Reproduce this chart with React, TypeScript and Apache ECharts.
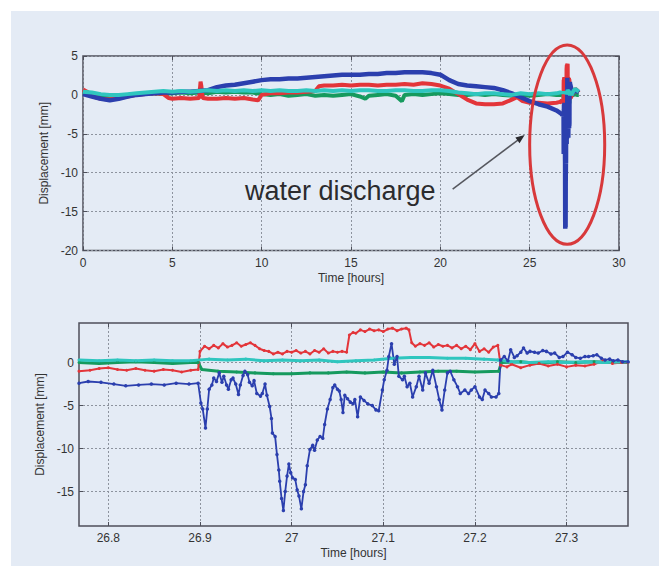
import React, { useEffect, useRef } from "react";
import * as echarts from "echarts";

const W = 659;
const H = 566;

// ---------- Overview (top panel), 0 – 26.7 h: [time h, displacement mm]
const blueOverview: [number, number][] = [
  [0, 0.1], [0.5, -0.2], [1, -0.5], [1.5, -0.7], [2, -0.5], [2.5, -0.2], [3, 0.0], [3.5, 0.1], [4, 0.2], [4.5, 0.3],
  [5, 0.3], [5.5, 0.4], [6, 0.4], [6.5, 0.5], [7, 0.6], [7.5, 1.0], [8, 1.2], [8.5, 1.3], [9, 1.5], [9.5, 1.7],
  [10, 1.9], [10.5, 2.0], [11, 2.0], [11.5, 2.1], [12, 2.1], [12.5, 2.2], [13, 2.3], [13.5, 2.4], [14, 2.5], [14.5, 2.6],
  [15, 2.6], [15.5, 2.6], [16, 2.7], [16.5, 2.7], [17, 2.8], [17.5, 2.8], [18, 2.9], [18.5, 2.9], [19, 2.9], [19.5, 2.8],
  [20, 2.6], [20.5, 1.9], [21, 1.4], [21.5, 1.2], [22, 1.1], [22.5, 1.0], [23, 0.9], [23.5, 0.6], [24, 0.2], [24.5, -0.3],
  [25, -0.8], [25.5, -1.2], [26, -1.5], [26.5, -2.0], [26.7, -2.3],
];
const redOverview: [number, number][] = [
  [0, 0.7], [0.3, 0.3], [0.7, -0.3], [1, -0.5], [1.5, -0.6], [2, -0.4], [2.5, -0.2], [3, 0.0], [3.5, 0.1], [4, 0.2],
  [4.5, 0.1], [4.8, -0.4], [5, -0.5], [5.5, -0.4], [6, -0.5], [6.5, -0.4], [6.58, 1.7], [6.62, 1.2], [6.7, -0.4], [7, -0.5],
  [7.5, -0.5], [8, -0.4], [8.5, -0.5], [9, -0.4], [9.5, -0.6], [9.8, -0.7], [10, 0.0], [10.5, 0.2], [11, 0.2], [11.5, 0.3],
  [12, 0.3], [12.5, 0.4], [13, 0.5], [13.2, 1.1], [13.5, 1.2], [14, 1.2], [14.5, 1.3], [15, 1.2], [15.5, 1.3], [16, 1.3],
  [16.5, 1.2], [17, 1.3], [17.5, 1.3], [18, 1.4], [18.5, 1.3], [19, 1.5], [19.5, 1.4], [20, 1.2], [20.5, 0.8], [21, 0.1],
  [21.5, -0.6], [22, -1.1], [22.5, -1.2], [23, -1.2], [23.5, -1.1], [24, -0.6], [24.3, -0.3], [24.6, -0.8], [25, -1.0], [25.5, -1.0],
  [26, -1.1], [26.5, -1.0], [26.7, -0.9],
];
const greenOverview: [number, number][] = [
  [0, 0.2], [0.5, 0.0], [1, -0.2], [1.5, -0.3], [2, -0.1], [2.5, 0.0], [3, 0.1], [3.5, 0.2], [4, 0.2], [4.5, 0.1],
  [5, 0.2], [5.5, 0.3], [6, 0.2], [6.5, 0.3], [7, 0.2], [7.5, 0.4], [8, 0.3], [8.5, 0.4], [9, 0.3], [9.5, 0.3],
  [10, 0.1], [10.5, 0.0], [11, 0.1], [11.5, -0.1], [12, 0.0], [12.5, 0.1], [13, -0.1], [13.5, 0.0], [14, -0.1], [14.5, 0.0],
  [15, 0.1], [15.5, -0.2], [15.8, -0.5], [16, -0.1], [16.5, 0.0], [17, 0.1], [17.5, -0.1], [17.85, -0.8], [18, 0.0], [18.5, 0.1],
  [19, 0.0], [19.5, 0.1], [20, 0.2], [20.5, 0.1], [21, 0.0], [21.5, 0.0], [22, 0.1], [22.5, 0.0], [23, 0.1], [23.5, 0.0],
  [24, -0.1], [24.5, 0.0], [25, -0.1], [25.5, 0.0], [26, 0.1], [26.5, 0.0], [26.7, 0.0],
];
const cyanOverview: [number, number][] = [
  [0, 0.4], [0.5, 0.3], [1, 0.1], [1.5, 0.0], [2, 0.0], [2.5, 0.1], [3, 0.2], [3.5, 0.3], [4, 0.4], [4.5, 0.5],
  [5, 0.4], [5.5, 0.5], [6, 0.4], [6.5, 0.5], [7, 0.6], [7.5, 0.5], [8, 0.6], [8.5, 0.5], [9, 0.6], [9.5, 0.5],
  [10, 0.6], [10.5, 0.5], [11, 0.6], [11.5, 0.5], [12, 0.5], [12.5, 0.6], [13, 0.5], [13.5, 0.6], [14, 0.5], [14.5, 0.6],
  [15, 0.5], [15.5, 0.6], [16, 0.6], [16.5, 0.5], [17, 0.5], [17.5, 0.6], [18, 0.6], [18.5, 0.5], [19, 0.5], [19.5, 0.6],
  [20, 0.6], [20.5, 0.5], [21, 0.3], [21.5, 0.2], [22, 0.1], [22.5, 0.2], [23, 0.2], [23.5, 0.1], [24, 0.0], [24.5, 0.2],
  [25, 0.1], [25.5, 0.2], [26, 0.1], [26.5, 0.2], [26.7, 0.3],
];

// ---------- Detail (bottom panel), 26.77 – 27.37 h
const blueDetail: [number, number][] = [
  [26.768, -2.4], [26.778, -2.2], [26.792, -2.3], [26.806, -2.5], [26.819, -2.7], [26.833, -2.6], [26.847, -2.5], [26.861, -2.6],
  [26.874, -2.4], [26.888, -2.5], [26.898, -2.4], [26.901, -4.7], [26.903, -5.4], [26.906, -7.6], [26.908, -5.4], [26.91, -3.1],
  [26.913, -2.6], [26.915, -1.8], [26.918, -2.2], [26.921, -1.2], [26.924, -2.3], [26.926, -1.6], [26.929, -2.6], [26.931, -3.1],
  [26.934, -2.0], [26.936, -1.8], [26.939, -2.5], [26.942, -3.7], [26.944, -2.6], [26.947, -1.5], [26.949, -1.0], [26.952, -1.4],
  [26.954, -2.3], [26.957, -2.7], [26.959, -2.1], [26.962, -3.6], [26.966, -3.9], [26.968, -3.6], [26.971, -2.5], [26.973, -3.8],
  [26.976, -5.1], [26.978, -6.5], [26.979, -8.2], [26.982, -8.6], [26.984, -10.7], [26.986, -12.5], [26.987, -13.8], [26.989, -15.8],
  [26.991, -17.2], [26.993, -15.0], [26.995, -13.2], [26.997, -11.8], [26.999, -12.8], [27.001, -13.4], [27.004, -13.6], [27.006, -14.8],
  [27.008, -15.5], [27.0106, -17.0], [27.013, -15.0], [27.015, -14.2], [27.017, -12.0], [27.02, -10.1], [27.023, -9.6], [27.025, -10.2],
  [27.028, -9.0], [27.031, -8.6], [27.034, -8.8], [27.036, -7.2], [27.039, -5.4], [27.042, -4.3], [27.045, -2.9], [27.047, -2.6],
  [27.05, -3.1], [27.052, -3.3], [27.054, -4.3], [27.056, -5.8], [27.058, -3.8], [27.061, -4.2], [27.064, -4.6], [27.067, -4.8],
  [27.069, -4.3], [27.072, -6.3], [27.075, -4.0], [27.079, -4.4], [27.083, -4.8], [27.088, -5.0], [27.092, -5.5], [27.095, -5.6],
  [27.099, -3.2], [27.101, -2.0], [27.104, -0.9], [27.106, 0.7], [27.109, 2.2], [27.112, -0.2], [27.115, 0.7], [27.117, -1.6],
  [27.121, -2.0], [27.123, -1.6], [27.126, -2.8], [27.129, -2.4], [27.132, -4.0], [27.136, -2.8], [27.139, -1.6], [27.143, -3.2],
  [27.146, -1.2], [27.15, -2.4], [27.154, -0.9], [27.158, -2.8], [27.161, -4.3], [27.164, -5.5], [27.167, -3.2], [27.17, -1.2],
  [27.173, -1.0], [27.177, -2.0], [27.181, -2.8], [27.184, -3.6], [27.189, -3.2], [27.193, -3.6], [27.196, -3.2], [27.2, -2.8],
  [27.205, -4.0], [27.208, -4.3], [27.211, -3.2], [27.215, -3.6], [27.218, -4.0], [27.223, -4.0], [27.226, -3.6], [27.228, 0.3],
  [27.232, 0.7], [27.236, 0.2], [27.239, 1.5], [27.243, 0.6], [27.246, 0.8], [27.25, 1.2], [27.253, 1.7], [27.257, 1.1],
  [27.26, 1.3], [27.265, 1.2], [27.269, 1.1], [27.274, 1.4], [27.278, 1.3], [27.283, 1.0], [27.287, 1.1], [27.292, 0.6],
  [27.296, 0.7], [27.301, 1.2], [27.306, 0.9], [27.31, 0.6], [27.315, 0.5], [27.32, 0.7], [27.324, 0.7], [27.329, 0.8],
  [27.333, 0.9], [27.338, 0.5], [27.342, 0.3], [27.347, 0.4], [27.351, 0.2], [27.356, 0.3], [27.361, 0.1], [27.367, 0.1],
];
const redDetail: [number, number][] = [
  [26.768, -1.0], [26.78, -0.9], [26.79, -0.7], [26.8, -0.6], [26.81, -0.8], [26.82, -0.9], [26.83, -0.7], [26.84, -0.9],
  [26.85, -1.0], [26.86, -0.8], [26.87, -0.9], [26.88, -1.1], [26.89, -0.9], [26.898, -0.8], [26.9, 1.3], [26.905, 1.9],
  [26.91, 1.6], [26.915, 2.0], [26.92, 1.7], [26.925, 2.2], [26.93, 1.8], [26.935, 2.0], [26.94, 2.3], [26.945, 1.9],
  [26.95, 2.1], [26.955, 2.3], [26.96, 2.0], [26.965, 1.6], [26.97, 1.4], [26.975, 1.3], [26.98, 1.0], [26.985, 1.2],
  [26.99, 1.0], [26.995, 1.3], [27.0, 1.2], [27.005, 1.4], [27.01, 1.1], [27.015, 1.3], [27.02, 1.0], [27.025, 1.4],
  [27.03, 1.2], [27.035, 1.6], [27.04, 1.1], [27.045, 1.3], [27.05, 1.2], [27.055, 1.3], [27.06, 1.2], [27.063, 3.2],
  [27.067, 3.5], [27.07, 3.4], [27.075, 3.8], [27.08, 3.6], [27.085, 3.9], [27.09, 3.7], [27.095, 3.8], [27.1, 3.6],
  [27.105, 3.9], [27.11, 4.0], [27.115, 3.7], [27.12, 3.9], [27.125, 4.0], [27.128, 3.8], [27.131, 2.3], [27.135, 1.9],
  [27.14, 2.2], [27.145, 2.0], [27.15, 2.3], [27.155, 1.8], [27.16, 2.1], [27.165, 1.9], [27.17, 2.0], [27.175, 1.7],
  [27.18, 2.0], [27.185, 1.6], [27.19, 1.9], [27.195, 1.5], [27.2, 2.2], [27.205, 1.3], [27.21, 1.6], [27.215, 1.2],
  [27.22, 1.8], [27.225, 2.0], [27.228, -0.3], [27.235, -0.5], [27.24, -0.2], [27.25, -0.6], [27.26, -0.3], [27.27, -0.1],
  [27.28, -0.4], [27.29, -0.2], [27.3, -0.5], [27.31, -0.3], [27.32, -0.4], [27.33, -0.2], [27.34, 0.2], [27.35, -0.1],
  [27.36, 0.0], [27.367, 0.0],
];
const greenDetail: [number, number][] = [
  [26.768, 0.0], [26.79, -0.1], [26.81, 0.0], [26.83, 0.1], [26.85, 0.0], [26.87, -0.1], [26.89, 0.0], [26.898, 0.0],
  [26.902, -0.8], [26.92, -1.0], [26.94, -1.1], [26.96, -1.2], [26.98, -1.3], [27.0, -1.3], [27.02, -1.2], [27.04, -1.2],
  [27.06, -1.1], [27.08, -1.2], [27.1, -1.1], [27.12, -1.2], [27.14, -1.1], [27.16, -1.0], [27.18, -1.0], [27.2, -1.1],
  [27.226, -1.0], [27.229, 0.0], [27.25, 0.1], [27.27, -0.1], [27.29, 0.1], [27.31, 0.0], [27.33, 0.1], [27.35, 0.0],
  [27.367, 0.0],
];
const cyanDetail: [number, number][] = [
  [26.768, 0.3], [26.79, 0.2], [26.81, 0.3], [26.83, 0.2], [26.85, 0.3], [26.87, 0.2], [26.89, 0.2], [26.91, 0.4],
  [26.93, 0.3], [26.95, 0.4], [26.97, 0.2], [26.99, 0.3], [27.01, 0.2], [27.03, 0.3], [27.05, 0.1], [27.07, 0.2],
  [27.09, 0.3], [27.11, 0.5], [27.13, 0.6], [27.15, 0.6], [27.17, 0.5], [27.19, 0.5], [27.21, 0.4], [27.225, 0.3],
  [27.24, 0.1], [27.26, 0.0], [27.28, 0.1], [27.3, 0.0], [27.32, 0.1], [27.34, 0.0], [27.367, 0.1],
];

// ---------- Tail after the detail window (top panel only)
const blueTail: [number, number][] = [[27.45, 0.4], [27.55, 0.6], [27.65, 0.5], [27.75, 0.3]];
const redTail: [number, number][] = [[27.45, 0.3], [27.55, 0.8], [27.65, 0.6], [27.75, 0.3]];
const greenTail: [number, number][] = [[27.45, 0.0], [27.55, 0.1], [27.65, 0.0], [27.75, 0.0]];
const cyanTail: [number, number][] = [[27.45, 0.5], [27.55, 0.8], [27.65, 0.6], [27.75, 0.4]];

// ---------- Axes
const ZOOM_X_MIN = 26.768;
const ZOOM_X_MAX = 27.367;
const ZOOM_Y_MIN = -19;
const ZOOM_Y_MAX = 4.6;
const zoomXTicks = [26.8, 26.9, 27.0, 27.1, 27.2, 27.3];
const zoomYTicks = [-15, -10, -5, 0];

// ---------- Annotations (data coordinates of the top panel)
const ELLIPSE_CENTER = [27.1, -6.4];
const ELLIPSE_RADII = [2.1, 12.8];
const ARROW_FROM = [20.69, -12.1];
const ARROW_TO = [24.72, -5.15];
const LABEL_AT = [14.4, -12.3];
const LABEL_TEXT = "water discharge";

const PANEL = "#e4ebf5";
const BLUE = "#2b3fae";
const RED = "#e3353a";
const GREEN = "#169a5e";
const CYAN = "#2fc6bf";
const FRAME = "#4d4f5a";
const GRIDLINE = "#8d939e";
const TEXT = "#333333";
const FONT = "Liberation Sans";

const label = { color: TEXT, fontSize: 12, fontFamily: FONT };
const nameStyle = { color: TEXT, fontSize: 12, fontFamily: FONT };
const split = { show: true, lineStyle: { type: [2, 2] as any, color: GRIDLINE, width: 1 } };

function mainX(gridIndex: number, extra: any) {
  return {
    type: "value",
    gridIndex,
    axisLine: { show: false, onZero: false },
    splitLine: split,
    name: "Time [hours]",
    nameLocation: "middle",
    nameGap: 21,
    nameTextStyle: nameStyle,
    ...extra,
  };
}
function mainY(gridIndex: number, gap: number, extra: any) {
  return {
    type: "value",
    gridIndex,
    axisLine: { show: false, onZero: false },
    splitLine: split,
    name: "Displacement [mm]",
    nameLocation: "middle",
    nameGap: gap,
    nameRotate: 90,
    nameTextStyle: nameStyle,
    ...extra,
  };
}
function mirror(kind: "x" | "y", gridIndex: number, extra: any) {
  return {
    type: "value",
    gridIndex,
    position: kind === "x" ? "top" : "right",
    axisLine: { show: false, onZero: false },
    axisLabel: { show: false },
    splitLine: { show: false },
    ...extra,
  };
}

export default function App() {
  const ref = useRef<HTMLDivElement>(null);

  useEffect(() => {
    document.body.style.margin = "0";
    const chart = echarts.init(ref.current!, null, { renderer: "svg", width: W, height: H });

    const tick = { inside: true, length: 4, lineStyle: { color: FRAME, width: 1 } };
    const zoomXTick = { ...tick, customValues: zoomXTicks };
    const zoomYTick = { ...tick, customValues: zoomYTicks };

    const topSeries = (name: string, color: string, a: any[], b: any[], c: any[], w: number) => ({
      name,
      type: "line",
      xAxisIndex: 0,
      yAxisIndex: 0,
      data: [...a, ...b, ...c],
      showSymbol: false,
      lineStyle: { color, width: w },
      itemStyle: { color },
      z: 3,
    });
    const botSeries = (name: string, color: string, d: any[], w: number, s: number) => ({
      name,
      type: "line",
      xAxisIndex: 1,
      yAxisIndex: 1,
      data: d,
      symbol: "circle",
      symbolSize: s,
      showSymbol: true,
      lineStyle: { color, width: w },
      itemStyle: { color },
      z: 3,
    });

    chart.setOption({
      animation: false,
      backgroundColor: "transparent",
      grid: [
        { left: 83, top: 56, width: 536, height: 194.5, show: true, borderColor: FRAME, borderWidth: 1.5, backgroundColor: "transparent", containLabel: false, outerBoundsMode: "none" },
        { left: 79, top: 323, width: 549, height: 203, show: true, borderColor: FRAME, borderWidth: 1.5, backgroundColor: "transparent", containLabel: false, outerBoundsMode: "none" },
      ],
      xAxis: [
        mainX(0, { min: 0, max: 30, interval: 5, axisTick: tick, axisLabel: { ...label, margin: 6 } }),
        mainX(1, {
          min: ZOOM_X_MIN,
          max: ZOOM_X_MAX,
          axisTick: zoomXTick,
          axisLabel: { ...label, margin: 6, customValues: zoomXTicks, formatter: (v: number) => String(Number(v.toFixed(1))) },
        }),
        mirror("x", 0, { min: 0, max: 30, interval: 5, axisTick: tick }),
        mirror("x", 1, { min: ZOOM_X_MIN, max: ZOOM_X_MAX, axisTick: zoomXTick }),
      ],
      yAxis: [
        mainY(0, 28, { min: -20, max: 5, interval: 5, axisTick: tick, axisLabel: { ...label, margin: 5 } }),
        mainY(1, 26, {
          min: ZOOM_Y_MIN,
          max: ZOOM_Y_MAX,
          axisTick: zoomYTick,
          axisLabel: { ...label, margin: 5, customValues: zoomYTicks },
        }),
        mirror("y", 0, { min: -20, max: 5, interval: 5, axisTick: tick }),
        mirror("y", 1, { min: ZOOM_Y_MIN, max: ZOOM_Y_MAX, axisTick: zoomYTick }),
      ],
      series: [
        topSeries("green", GREEN, greenOverview, greenDetail, greenTail, 4),
        topSeries("red", RED, redOverview, redDetail, redTail, 4),
        topSeries("blue", BLUE, blueOverview, blueDetail, blueTail, 4.5),
        topSeries("cyan", CYAN, cyanOverview, cyanDetail, cyanTail, 4),
        botSeries("green", GREEN, greenDetail, 3, 3),
        botSeries("red", RED, redDetail, 2, 3),
        botSeries("cyan", CYAN, cyanDetail, 3, 3),
        botSeries("blue", BLUE, blueDetail, 1.8, 3.5),
      ],
    });

    const px = (d: number[]) => chart.convertToPixel({ gridIndex: 0 } as any, d) as number[];
    const c = px(ELLIPSE_CENTER);
    const rxP = px([ELLIPSE_CENTER[0] + ELLIPSE_RADII[0], ELLIPSE_CENTER[1]]);
    const ryP = px([ELLIPSE_CENTER[0], ELLIPSE_CENTER[1] + ELLIPSE_RADII[1]]);
    const s = px(ARROW_FROM);
    const e = px(ARROW_TO);
    const dx = e[0] - s[0];
    const dy = e[1] - s[1];
    const len = Math.hypot(dx, dy);
    const ux = dx / len;
    const uy = dy / len;
    const head = 9;
    const half = 3.5;
    const t = px(LABEL_AT);

    chart.setOption({
      graphic: [
        {
          type: "ellipse",
          shape: { cx: c[0], cy: c[1], rx: rxP[0] - c[0], ry: c[1] - ryP[1] },
          style: { fill: "none", stroke: "#d8393b", lineWidth: 3 },
          z: 10,
        },
        {
          type: "line",
          shape: { x1: s[0], y1: s[1], x2: e[0] - ux * 6, y2: e[1] - uy * 6 },
          style: { stroke: "#55575e", lineWidth: 1.5 },
          z: 10,
        },
        {
          type: "polygon",
          shape: {
            points: [
              [e[0], e[1]],
              [e[0] - ux * head - uy * half, e[1] - uy * head + ux * half],
              [e[0] - ux * head + uy * half, e[1] - uy * head - ux * half],
            ],
          },
          style: { fill: "#2a2a2e" },
          z: 10,
        },
        {
          type: "text",
          x: t[0],
          y: t[1],
          style: {
            text: LABEL_TEXT,
            fontSize: 27,
            fontFamily: FONT,
            fill: "#2b2b2e",
            align: "center",
            verticalAlign: "middle",
          },
          z: 10,
        },
      ],
    });

    return () => chart.dispose();
  }, []);

  return (
    <div style={{ position: "relative", width: W, height: H, background: "#ffffff", overflow: "hidden" }}>
      <div style={{ position: "absolute", left: 11, top: 11, right: 0, bottom: 0, background: PANEL }} />
      <div ref={ref} style={{ position: "absolute", left: 0, top: 0, width: W, height: H }} />
    </div>
  );
}
